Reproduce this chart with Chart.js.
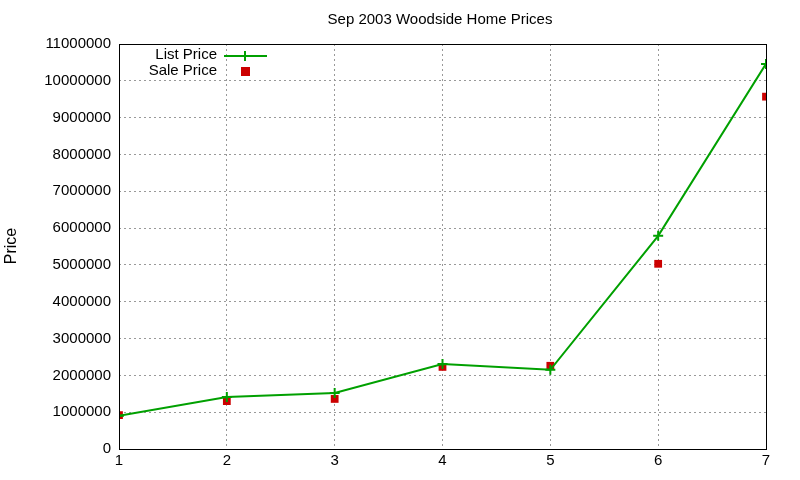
<!DOCTYPE html>
<html><head><script src="https://cdn.jsdelivr.net/npm/chart.js@4"></script>
<style>html,body{margin:0;background:#fff}</style></head>
<body><div style="width:800px;height:480px"><canvas id="c"></canvas></div>
<script>
const xs=[1,2,3,4,5,6,7];
const listPrice=[900000,1410000,1520000,2310000,2150000,5790000,10460000];
const salePrice=[920000,1300000,1360000,2230000,2260000,5030000,9570000];
const F='"Liberation Sans", Arial, sans-serif';
const deco={id:'deco',afterDraw(c){const x=c.ctx,a=c.chartArea;x.save();
x.strokeStyle='#000';x.lineWidth=1;x.strokeRect(a.left+0.5,a.top+0.5,a.right-a.left,a.bottom-a.top);
x.fillStyle='#000';x.font='15px '+F;x.textAlign='center';x.textBaseline='middle';
x.fillText('Sep 2003 Woodside Home Prices',440,20);
x.save();x.translate(12,246);x.rotate(-Math.PI/2);x.font='16px '+F;x.fillText('Price',0,0);x.restore();
x.textAlign='right';x.font='15px '+F;x.fillText('List Price',217,55);x.fillText('Sale Price',217,71);
x.strokeStyle='#00a000';x.lineWidth=2;x.beginPath();x.moveTo(224,56);x.lineTo(267,56);x.moveTo(245,51);x.lineTo(245,61);x.stroke();
x.fillStyle='#cc0000';x.fillRect(241,67,9,9);
x.restore();}};
new Chart(document.getElementById('c'),{type:'scatter',
data:{datasets:[
{data:xs.map((v,i)=>({x:v,y:listPrice[i]})),showLine:true,borderColor:'#00a000',backgroundColor:'#00a000',borderWidth:2,pointStyle:'cross',pointRadius:5,pointBorderWidth:2},
{data:xs.map((v,i)=>({x:v,y:salePrice[i]})),showLine:false,backgroundColor:'#cc0000',borderColor:'#cc0000',pointStyle:'rect',pointRadius:5.5,pointBorderWidth:0}]},
options:{responsive:true,maintainAspectRatio:false,animation:false,
layout:{padding:{top:44,right:34,left:0,bottom:0}},
plugins:{legend:{display:false},tooltip:{enabled:false}},
scales:{
x:{type:'linear',min:1,max:7,ticks:{stepSize:1,color:'#000',font:{size:15,family:F}},grid:{color:'#999',drawTicks:false},border:{dash:[2,3],display:false},afterFit(s){s.height=31;}},
y:{min:0,max:11000000,ticks:{stepSize:1000000,color:'#000',font:{size:15,family:F},padding:8,callback:v=>String(v)},grid:{color:'#999',drawTicks:false},border:{dash:[2,3],display:false},afterFit(s){s.width=119;}}}},
plugins:[deco]});
</script></body></html>
